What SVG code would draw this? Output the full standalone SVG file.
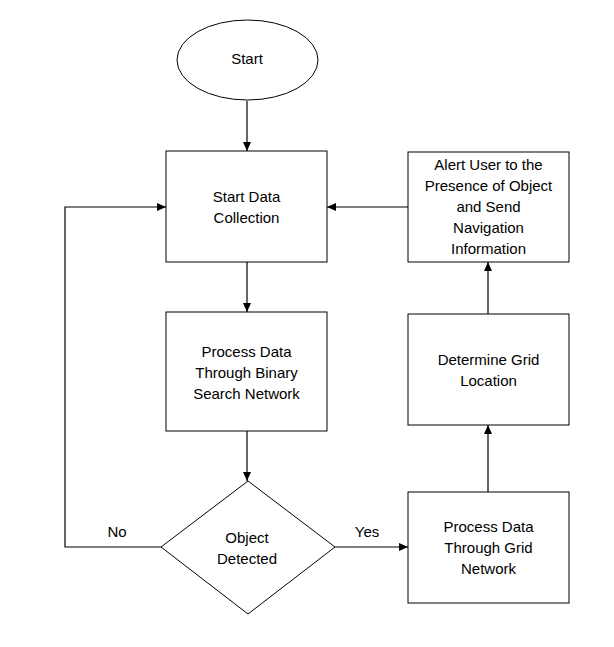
<svg xmlns="http://www.w3.org/2000/svg" width="614" height="647" viewBox="0 0 614 647">
<style>
.s{fill:#fff;stroke:#000;stroke-width:1}
.t{font-family:"Liberation Sans",Arial,sans-serif;font-size:15px;fill:#000;text-anchor:middle}
.c{fill:none;stroke:#000;stroke-width:1.2}
</style>
<defs>
<marker id="ah" markerWidth="9" markerHeight="8" refX="9" refY="4" orient="auto" markerUnits="userSpaceOnUse">
<path d="M0,0 L9,4 L0,8 Z" fill="#000"/>
</marker>
</defs>
<rect width="614" height="647" fill="#fff"/>
<g id="connectors">
<line class="c" x1="247" y1="101" x2="247" y2="151" marker-end="url(#ah)"/>
<line class="c" x1="247" y1="262" x2="247" y2="312" marker-end="url(#ah)"/>
<line class="c" x1="247" y1="431" x2="247" y2="481" marker-end="url(#ah)"/>
<polyline class="c" points="161,547 65,547 65,207 166,207" marker-end="url(#ah)"/>
<line class="c" x1="335" y1="547" x2="408" y2="547" marker-end="url(#ah)"/>
<line class="c" x1="488" y1="492" x2="488" y2="425" marker-end="url(#ah)"/>
<line class="c" x1="488" y1="314" x2="488" y2="262" marker-end="url(#ah)"/>
<line class="c" x1="408" y1="207" x2="327" y2="207" marker-end="url(#ah)"/>
<text class="t" x="117" y="537">No</text>
<text class="t" x="367" y="537">Yes</text>
</g>
<g id="start">
<ellipse class="s" cx="247.5" cy="60" rx="70.5" ry="40"/>
<text class="t" x="247" y="64">Start</text>
</g>
<g id="collect">
<rect class="s" x="166" y="151" width="161" height="111"/>
<text class="t" x="246.5" y="202">Start Data</text>
<text class="t" x="246.5" y="223">Collection</text>
</g>
<g id="binary">
<rect class="s" x="166" y="312" width="161" height="119"/>
<text class="t" x="246.5" y="357">Process Data</text>
<text class="t" x="246.5" y="378">Through Binary</text>
<text class="t" x="246.5" y="399">Search Network</text>
</g>
<g id="detected">
<polygon class="s" points="248,481 335,547 248,614 161,547"/>
<text class="t" x="247" y="543">Object</text>
<text class="t" x="247" y="564">Detected</text>
</g>
<g id="grid">
<rect class="s" x="408" y="492" width="161" height="111"/>
<text class="t" x="488.5" y="532">Process Data</text>
<text class="t" x="488.5" y="553">Through Grid</text>
<text class="t" x="488.5" y="574">Network</text>
</g>
<g id="location">
<rect class="s" x="408" y="314" width="161" height="111"/>
<text class="t" x="488.5" y="365">Determine Grid</text>
<text class="t" x="488.5" y="386">Location</text>
</g>
<g id="alert">
<rect class="s" x="408" y="152" width="161" height="110"/>
<text class="t" x="488.5" y="170">Alert User to the</text>
<text class="t" x="488.5" y="191">Presence of Object</text>
<text class="t" x="488.5" y="212">and Send</text>
<text class="t" x="488.5" y="233">Navigation</text>
<text class="t" x="488.5" y="254">Information</text>
</g>
</svg>
